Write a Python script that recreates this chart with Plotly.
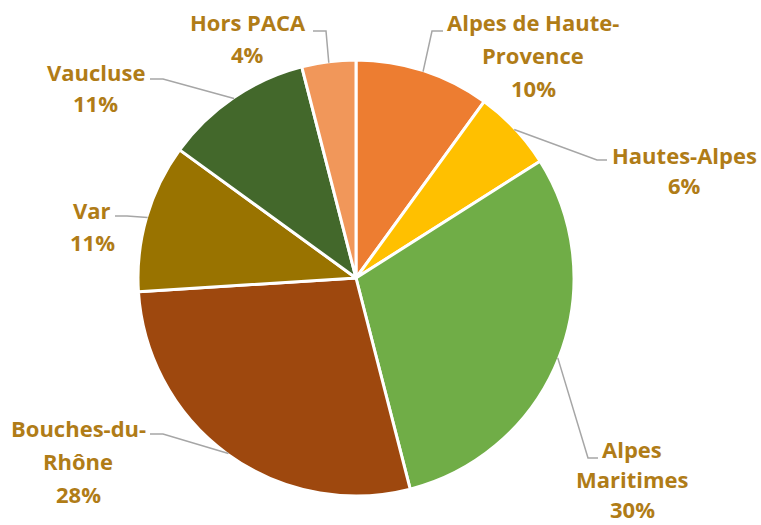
import math
import plotly.graph_objects as go

# ---- data ----
labels = ["Alpes de Haute-Provence", "Hautes-Alpes", "Alpes Maritimes",
          "Bouches-du-Rhône", "Var", "Vaucluse", "Hors PACA"]
values = [10, 6, 30, 28, 11, 11, 4]
label_lines = [["Alpes de Haute-", "Provence"], ["Hautes-Alpes"], ["Alpes", "Maritimes"],
               ["Bouches-du-", "Rhône"], ["Var"], ["Vaucluse"], ["Hors PACA"]]
colors = ["#ED7D31", "#FFC000", "#70AD47", "#9E480E", "#997300", "#43682B", "#F1975A"]

# ---- layout constants (pixels) ----
W, H = 761, 525
cx, cy, R = 356, 278, 218
TEXT_COLOR = "#B07C17"
LINE_COLOR = "#A6A6A6"
# text center x, first-line y, line gap, elbow (x, y), stub end x
label_pos = [
    (533, 22, 33, (432, 31), 443),
    (684, 155, 30, (597, 160), 607),
    (632, 449, 30, (588, 458), 598),
    (78, 428, 33, (163, 434), 150),
    (92, 210, 32, (127, 216), 115),
    (96, 72, 31, (163, 79), 150),
    (248, 22, 32, (326, 31), 313),
]


def px(x):
    return x / W


def py(y):
    return 1 - y / H


fig = go.Figure(go.Pie(
    labels=labels, values=values, sort=False, direction="clockwise", rotation=0,
    marker=dict(colors=colors, line=dict(color="white", width=3)),
    textinfo="none", hoverinfo="label+percent", showlegend=False,
    domain=dict(x=[px(cx - R), px(cx + R)], y=[py(cy + R), py(cy - R)]),
))

total = sum(values)
cum = 0
shapes, annotations = [], []
for i, v in enumerate(values):
    mid = (cum + v / 2) / total * 2 * math.pi
    cum += v
    sx = cx + (R - 1) * math.sin(mid)
    sy = cy - (R - 1) * math.cos(mid)
    tx, ty, gap, (ex, ey), endx = label_pos[i]
    shapes.append(dict(
        type="path", xref="paper", yref="paper",
        path=f"M {px(sx)} {py(sy)} L {px(ex)} {py(ey)} L {px(endx)} {py(ey)}",
        line=dict(color=LINE_COLOR, width=1.5),
    ))
    lines = label_lines[i] + [f"{round(v / total * 100)}%"]
    for k, t in enumerate(lines):
        annotations.append(dict(
            text=t, x=px(tx), y=py(ty + k * gap), xref="paper", yref="paper",
            xanchor="center", yanchor="middle", showarrow=False, borderpad=0,
            font=dict(family="Open Sans", size=22, color=TEXT_COLOR, weight="bold"),
        ))

fig.update_layout(
    width=W, height=H, margin=dict(l=0, r=0, t=0, b=0),
    paper_bgcolor="white", plot_bgcolor="white",
    shapes=shapes, annotations=annotations,
)

fig.write_html("out.html", config={"displayModeBar": False},
               post_script="document.body.style.margin='0';document.body.style.padding='0';")
